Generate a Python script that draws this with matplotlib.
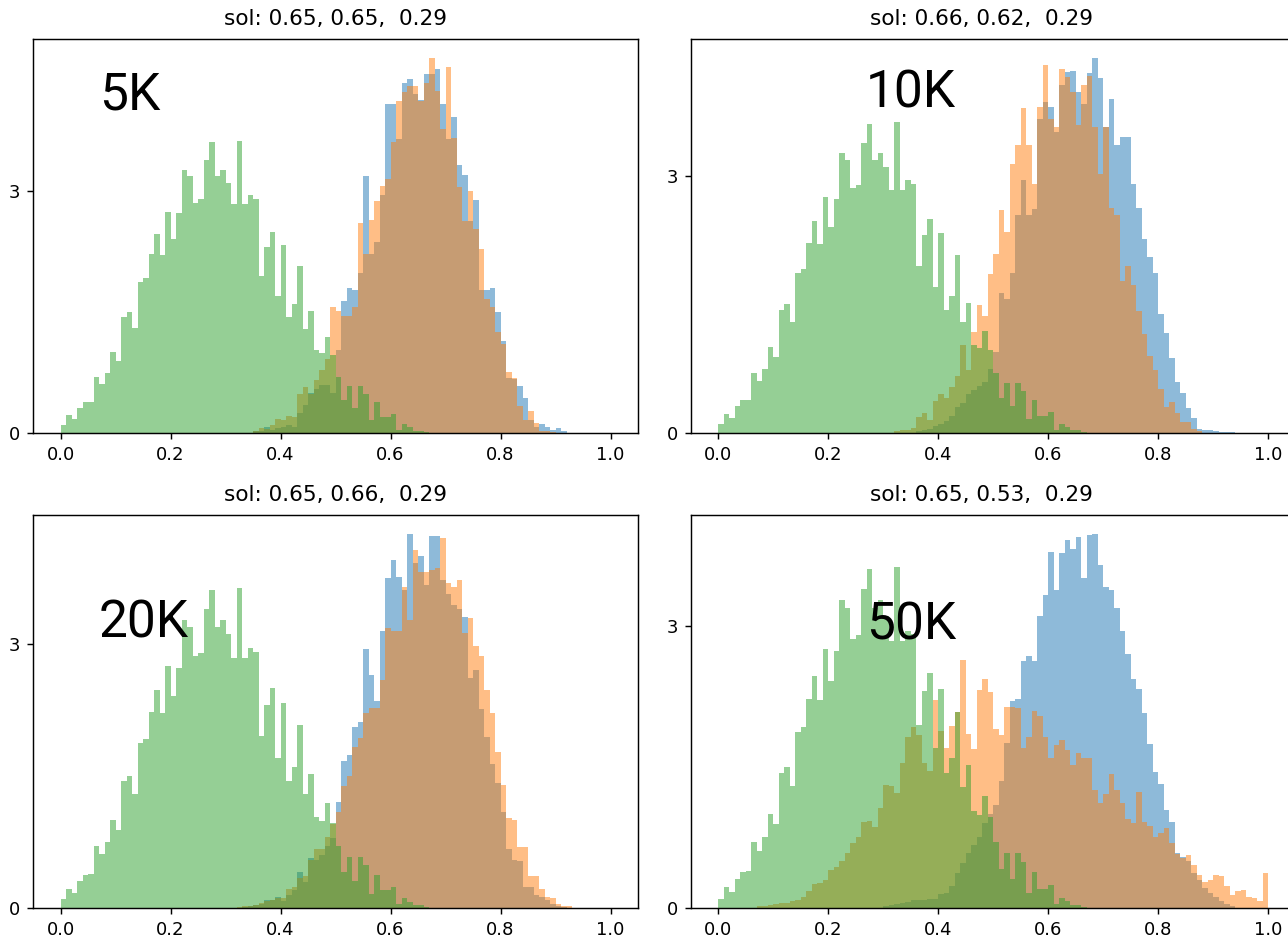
import numpy as np
import matplotlib
matplotlib.use("Agg")
import matplotlib.pyplot as plt

# 100 bins of width 0.01 on [0, 1]; heights are densities
EDGES = np.linspace(0.0, 1.0, 101)

# green series is identical in every panel (starts at bin 0)
GREEN = [0.10, 0.22, 0.17, 0.31, 0.38, 0.39, 0.70, 0.61, 0.75, 1.00,
         0.89, 1.44, 1.50, 1.30, 1.87, 1.92, 2.22, 2.47, 2.21, 2.75,
         2.41, 2.73, 3.27, 3.19, 2.86, 2.90, 3.39, 3.61, 3.19, 3.27,
         3.11, 2.84, 3.63, 2.84, 2.95, 2.91, 1.95, 2.31, 2.50, 1.70,
         2.33, 1.44, 1.60, 2.08, 1.29, 1.52, 1.03, 0.99, 1.19, 0.97,
         0.70, 0.41, 0.58, 0.31, 0.58, 0.49, 0.16, 0.38, 0.20, 0.20,
         0.24, 0.04, 0.11, 0.07, 0.03, 0.03, 0.01]

# blue / orange per panel, each list begins at the given bin index
BLUE_5K_START = 35
BLUE_5K = [0.02, 0.03, 0.08, 0.04, 0.06, 0.08, 0.10, 0.08, 0.25, 0.35,
           0.50, 0.55, 0.60, 0.60, 0.50, 1.03, 1.64, 1.80, 1.78, 1.99,
           3.19, 2.22, 2.37, 2.96, 4.08, 4.08, 3.65, 4.35, 4.40, 4.21,
           4.13, 4.46, 4.46, 4.52, 4.08, 3.65, 3.93, 3.33, 3.21, 2.63,
           2.89, 1.78, 1.78, 1.80, 1.50, 1.14, 0.68, 0.67, 0.58, 0.43,
           0.16, 0.08, 0.11, 0.07, 0.04, 0.06, 0.02]
ORANGE_5K_START = 35
ORANGE_5K = [0.02, 0.06, 0.05, 0.10, 0.17, 0.16, 0.21, 0.20, 0.49, 0.57,
             0.49, 0.66, 0.78, 0.92, 1.57, 1.52, 1.45, 1.45, 1.57, 2.61,
             2.22, 2.65, 2.88, 3.07, 3.15, 3.62, 4.12, 4.24, 4.31, 4.31,
             4.12, 4.35, 4.66, 4.25, 3.77, 4.54, 3.66, 3.06, 2.63, 3.01,
             2.53, 2.29, 1.66, 1.57, 1.26, 1.10, 0.76, 0.68, 0.33, 0.16,
             0.27, 0.13, 0.03, 0.02, 0.01]

BLUE_10K_START = 36
BLUE_10K = [0.02, 0.03, 0.05, 0.08, 0.10, 0.14, 0.20, 0.30, 0.35, 0.46,
            0.50, 0.55, 0.60, 0.75, 0.95, 1.63, 1.56, 1.87, 2.54, 2.95,
            2.54, 2.61, 3.67, 3.86, 3.80, 3.51, 4.06, 4.21, 4.23, 3.98,
            3.84, 4.20, 4.38, 4.14, 3.57, 3.90, 3.36, 3.45, 3.45, 2.91,
            2.63, 2.27, 2.05, 1.87, 1.39, 1.17, 0.88, 0.60, 0.47, 0.29,
            0.17, 0.05, 0.04, 0.03, 0.02, 0.01, 0.01, 0.01]
ORANGE_10K_START = 32
ORANGE_10K = [0.02, 0.03, 0.04, 0.06, 0.19, 0.23, 0.15, 0.37, 0.45, 0.41,
              0.54, 0.66, 1.03, 0.74, 1.18, 1.49, 1.37, 1.86, 2.09, 2.60,
              2.35, 3.14, 3.36, 3.79, 3.36, 2.91, 3.80, 4.30, 3.67, 3.57,
              4.25, 4.16, 3.98, 3.59, 4.06, 4.17, 3.57, 3.02, 3.57, 2.63,
              2.54, 1.77, 1.95, 1.73, 1.42, 1.15, 0.90, 0.74, 0.51, 0.30,
              0.36, 0.23, 0.13, 0.13, 0.05, 0.02]

BLUE_20K_START = 33
BLUE_20K = [0.01, 0.02, 0.03, 0.05, 0.09, 0.09, 0.13, 0.08, 0.15, 0.20,
            0.41, 0.30, 0.57, 0.55, 0.60, 0.70, 0.80, 1.20, 1.67, 1.74,
            2.06, 2.11, 2.94, 2.65, 2.35, 3.14, 3.75, 3.95, 3.76, 3.61,
            4.25, 3.92, 4.00, 3.67, 4.22, 4.22, 3.73, 3.56, 3.44, 3.40,
            3.30, 2.61, 2.70, 2.26, 1.94, 1.64, 1.42, 1.09, 0.67, 0.55,
            0.53, 0.24, 0.24, 0.15, 0.12, 0.09, 0.05, 0.02, 0.01]
ORANGE_20K_START = 32
ORANGE_20K = [0.01, 0.02, 0.02, 0.03, 0.06, 0.08, 0.09, 0.11, 0.11, 0.22,
              0.24, 0.34, 0.36, 0.55, 0.67, 0.67, 0.81, 0.95, 1.09, 1.39,
              1.50, 1.83, 1.93, 2.21, 2.27, 2.27, 2.59, 3.18, 3.14, 3.14,
              3.64, 3.27, 4.06, 3.82, 3.82, 3.84, 3.86, 4.20, 3.69, 3.64,
              3.73, 3.12, 3.29, 2.97, 2.86, 2.48, 2.21, 1.77, 1.40, 1.02,
              1.00, 0.69, 0.69, 0.36, 0.36, 0.22, 0.13, 0.11, 0.05, 0.02,
              0.02]

BLUE_50K_START = 30
BLUE_50K = [0.02, 0.03, 0.04, 0.05, 0.06, 0.08, 0.09, 0.09, 0.10, 0.10,
            0.15, 0.16, 0.23, 0.37, 0.48, 0.58, 0.67, 0.75, 0.90, 1.00,
            1.10, 1.35, 1.75, 2.20, 2.22, 2.63, 2.68, 2.63, 3.10, 3.33,
            3.79, 3.38, 3.78, 3.91, 3.82, 3.95, 3.51, 3.97, 3.98, 3.65,
            3.41, 3.38, 3.19, 2.95, 2.70, 2.44, 2.33, 2.07, 1.74, 1.45,
            1.32, 1.04, 0.91, 0.59, 0.54, 0.50, 0.37, 0.30, 0.21, 0.16,
            0.12, 0.07, 0.04, 0.02]
ORANGE_50K_START = 7
ORANGE_50K = [0.02, 0.02, 0.03, 0.04, 0.05, 0.05, 0.07, 0.08, 0.12, 0.18,
              0.25, 0.27, 0.30, 0.40, 0.44, 0.50, 0.59, 0.69, 0.76, 0.91,
              0.92, 0.86, 1.06, 1.31, 1.30, 1.22, 1.54, 1.82, 1.92, 1.84,
              1.54, 1.46, 2.21, 1.88, 1.70, 1.94, 2.08, 2.64, 1.85, 1.69,
              2.32, 2.43, 2.30, 1.90, 1.84, 2.14, 2.14, 2.13, 1.70, 1.82,
              2.09, 2.04, 1.82, 1.60, 1.73, 1.79, 1.68, 1.52, 1.65, 1.59,
              1.60, 1.26, 1.12, 1.21, 1.43, 1.26, 1.12, 0.95, 0.90, 1.23,
              0.91, 0.87, 0.76, 0.80, 0.85, 0.69, 0.57, 0.53, 0.56, 0.46,
              0.35, 0.28, 0.30, 0.35, 0.34, 0.23, 0.14, 0.18, 0.19, 0.12,
              0.11, 0.07, 0.37]

LABELS = ["5K", "10K", "20K", "50K"]
TITLES = ["sol: 0.65, 0.65,  0.29",
          "sol: 0.66, 0.62,  0.29",
          "sol: 0.65, 0.66,  0.29",
          "sol: 0.65, 0.53,  0.29"]

W, H = 1288, 939
DPI = 130


def full(start, vals):
    h = np.zeros(len(EDGES) - 1)
    h[start:start + len(vals)] = vals
    return h


def px_rect(left, top, right, bottom):
    return [left / W, 1 - bottom / H, (right - left) / W, (bottom - top) / H]


def draw_panel(ax, series, title, title_x):
    centers = 0.5 * (EDGES[:-1] + EDGES[1:])
    for heights, color in series:
        ax.hist(centers, bins=EDGES, weights=heights, color=color, alpha=0.5)
    ax.set_yticks([0, 3])
    ax.set_title(title, pad=8, x=title_x)


def main():
    fig = plt.figure(figsize=(W / DPI, H / DPI), dpi=DPI)

    # right column runs past the image edge, so its title sits left of centre
    rects = [px_rect(33, 39, 638, 433), px_rect(690.7, 39, 1295.7, 433),
             px_rect(33, 515, 638, 908), px_rect(690.7, 515, 1295.7, 908)]
    title_x = [0.5, 0.48, 0.5, 0.48]
    data = [
        (full(BLUE_5K_START, BLUE_5K), full(ORANGE_5K_START, ORANGE_5K)),
        (full(BLUE_10K_START, BLUE_10K), full(ORANGE_10K_START, ORANGE_10K)),
        (full(BLUE_20K_START, BLUE_20K), full(ORANGE_20K_START, ORANGE_20K)),
        (full(BLUE_50K_START, BLUE_50K), full(ORANGE_50K_START, ORANGE_50K)),
    ]
    green = full(0, GREEN)

    for rect, (blue, orange), title, tx in zip(rects, data, TITLES, title_x):
        ax = fig.add_axes(rect)
        draw_panel(ax, [(blue, "C0"), (orange, "C1"), (green, "C2")], title, tx)

    # big sample-size tags, baseline positions in pixels
    tag_pos = [(99, 110), (866, 108), (99, 638), (866, 639)]
    for (x, y), lab in zip(tag_pos, LABELS):
        fig.text(x / W, 1 - y / H, lab, fontsize=28.5, family="Roboto",
                 va="baseline", ha="left", color="black")

    fig.savefig("out.png", dpi=DPI)
    plt.close(fig)


if __name__ == "__main__":
    main()
